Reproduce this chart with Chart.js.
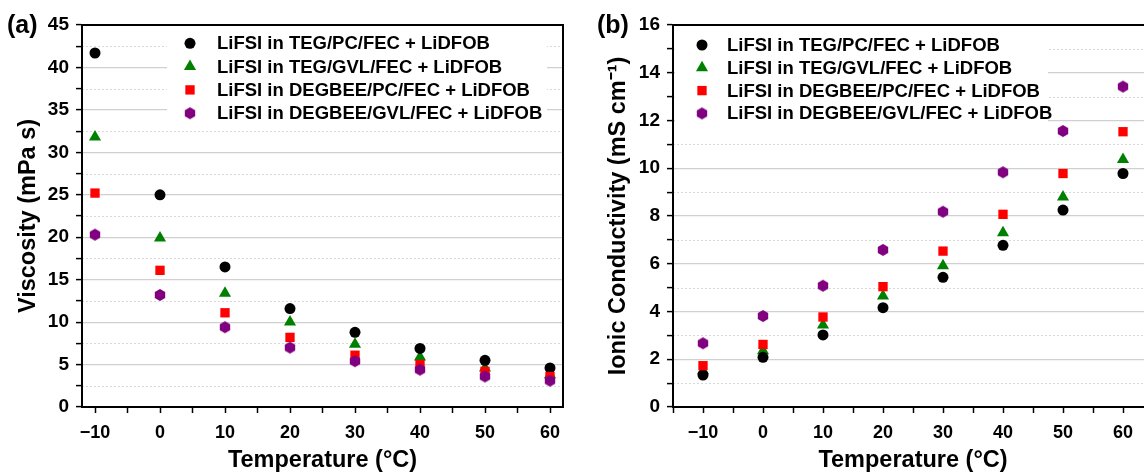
<!DOCTYPE html>
<html>
<head>
<meta charset="utf-8">
<script src="https://cdn.jsdelivr.net/npm/chart.js@4.4.0/dist/chart.umd.min.js"></script>
<style>
  html, body { margin: 0; padding: 0; background: #fff; overflow: hidden; width: 1144px; height: 472px; }
  .panel { position: absolute; top: 0; height: 472px; overflow: hidden; }
  #wrapA { left: 0; width: 590px; }
  #wrapB { left: 590px; width: 590px; }
  .tag { position: absolute; top: 12px; font: bold 25px 'Liberation Sans', Arial, sans-serif; line-height: 1; color: #000; }
</style>
</head>
<body>
<div class="panel" id="wrapA"><canvas id="chartA" width="590" height="480"></canvas></div>
<div class="panel" id="wrapB"><canvas id="chartB" width="590" height="480"></canvas></div>
<div class="tag" style="left:7px">(a)</div>
<div class="tag" style="left:597px">(b)</div>
<script>
const temperatures = [-10, 0, 10, 20, 30, 40, 50, 60];
const seriesNames = [
  "LiFSI in TEG/PC/FEC + LiDFOB",
  "LiFSI in TEG/GVL/FEC + LiDFOB",
  "LiFSI in DEGBEE/PC/FEC + LiDFOB",
  "LiFSI in DEGBEE/GVL/FEC + LiDFOB",
];

// viscosity (mPa s)
const viscTegPc = [41.7, 25.0, 16.5, 11.6, 8.8, 6.9, 5.5, 4.6];
const viscTegGvl = [31.8, 19.9, 13.4, 10.0, 7.4, 5.9, 4.6, 3.8];
const viscDegPc = [25.2, 16.1, 11.1, 8.2, 6.1, 5.0, 4.2, 3.6];
const viscDegGvl = [20.3, 13.2, 9.4, 7.0, 5.4, 4.4, 3.6, 3.1];

// ionic conductivity (mS cm-1)
const condTegPc = [1.34, 2.08, 3.02, 4.16, 5.43, 6.77, 8.25, 9.78];
const condTegGvl = [1.52, 2.36, 3.43, 4.65, 5.92, 7.3, 8.8, 10.37];
const condDegPc = [1.73, 2.62, 3.77, 5.04, 6.53, 8.07, 9.78, 11.53];
const condDegGvl = [2.67, 3.81, 5.08, 6.58, 8.18, 9.83, 11.56, 13.42];

const colors = ["#000000", "#008000", "#ff0000", "#800080"];
const fontFamily = "'Liberation Sans', Arial, sans-serif";

function makeHexagon(r) {
  const size = Math.ceil(r * 2) + 2;
  const c = document.createElement("canvas");
  c.width = size;
  c.height = size;
  const g = c.getContext("2d");
  g.fillStyle = colors[3];
  g.beginPath();
  for (let i = 0; i < 6; i++) {
    const a = Math.PI / 2 + (i * Math.PI) / 3;
    const px = size / 2 + r * Math.cos(a);
    const py = size / 2 + r * Math.sin(a);
    if (i === 0) g.moveTo(px, py);
    else g.lineTo(px, py);
  }
  g.closePath();
  g.fill();
  return c;
}
const hexagon = makeHexagon(6);

const styles = [
  { pointStyle: "circle", radius: 5.5, order: 3 },
  { pointStyle: "triangle", radius: 7, order: 4 },
  { pointStyle: "rect", radius: 6.6, order: 2 },
  { pointStyle: hexagon, radius: 6, order: 1 },
];

function toPoints(values) {
  return temperatures.map((t, i) => ({ x: t, y: values[i] }));
}

function buildDatasets(seriesList) {
  return seriesList.map((values, i) => ({
    label: seriesNames[i],
    data: toPoints(values),
    showLine: false,
    pointStyle: styles[i].pointStyle,
    pointRadius: styles[i].radius,
    pointHoverRadius: styles[i].radius,
    backgroundColor: colors[i],
    borderColor: colors[i],
    pointBorderWidth: 0,
    order: styles[i].order,
  }));
}

function drawMarker(ctx, style, color, x, y, r) {
  ctx.fillStyle = color;
  if (style instanceof HTMLCanvasElement) {
    ctx.drawImage(style, x - style.width / 2, y - style.height / 2);
    return;
  }
  ctx.beginPath();
  if (style === "circle") {
    ctx.arc(x, y, r, 0, Math.PI * 2);
  } else if (style === "triangle") {
    ctx.moveTo(x, y - r);
    ctx.lineTo(x + r * Math.sin(Math.PI / 3), y + r / 2);
    ctx.lineTo(x - r * Math.sin(Math.PI / 3), y + r / 2);
    ctx.closePath();
  } else if (style === "rect") {
    const s = Math.SQRT1_2 * r;
    ctx.rect(x - s, y - s, 2 * s, 2 * s);
  }
  ctx.fill();
}

const boxPlugin = {
  id: "box",
  beforeDatasetsDraw(chart, args, opts) {
    // dotted minor grid lines
    const { ctx, chartArea: a, scales } = chart;
    ctx.save();
    ctx.strokeStyle = "#d9d9d9";
    ctx.lineWidth = 1;
    ctx.setLineDash([2, 2]);
    scales.y.ticks.forEach((t) => {
      if (t.value % opts.yMajor !== 0) {
        const py = Math.round(scales.y.getPixelForValue(t.value)) + 0.5;
        ctx.beginPath();
        ctx.moveTo(a.left, py);
        ctx.lineTo(a.right, py);
        ctx.stroke();
      }
    });
    ctx.restore();
  },
  afterDatasetsDraw(chart, args, opts) {
    // legend on a white box inside the plot
    const { ctx, chartArea: a } = chart;
    const lg = opts.legend;
    ctx.save();
    ctx.fillStyle = "#fff";
    ctx.fillRect(a.left + lg.left, a.top + lg.top, lg.right - lg.left, lg.bottom - lg.top);
    ctx.font = "bold 18.5px " + fontFamily;
    ctx.textBaseline = "middle";
    seriesNames.forEach((name, i) => {
      const y = a.top + lg.rowY + i * lg.rowGap;
      drawMarker(ctx, styles[i].pointStyle, colors[i], a.left + lg.markerX, y, styles[i].radius);
      ctx.fillStyle = "#000";
      ctx.fillText(name, a.left + lg.textX, y + 1);
    });
    ctx.restore();
  },
  afterDraw(chart) {
    const { ctx, chartArea: a } = chart;
    ctx.save();
    ctx.strokeStyle = "#000";
    ctx.lineWidth = 2;
    ctx.strokeRect(a.left, a.top, a.right - a.left, a.bottom - a.top);
    ctx.restore();
  },
};

function tempLabel(v) {
  if (v % 10 !== 0) return "";
  return v < 0 ? "\u2212" + Math.abs(v) : String(v);
}

function makeOptions(cfg) {
  const xTickFont = { family: fontFamily, size: 18, weight: "bold" };
  const yTickFont = { family: fontFamily, size: 19, weight: "bold" };
  const titleFont = { family: fontFamily, size: 23.5, weight: "bold" };
  return {
    responsive: false,
    animation: false,
    events: [],
    layout: { padding: cfg.padding },
    plugins: {
      legend: { display: false },
      tooltip: { enabled: false },
      box: { yMajor: cfg.yMajor, legend: cfg.legend },
    },
    scales: {
      x: {
        type: "linear",
        min: cfg.xMin,
        max: cfg.xMax,
        afterBuildTicks: (s) => {
          const ticks = [];
          for (let v = Math.ceil(s.min / 5) * 5; v <= s.max; v += 5) ticks.push({ value: v });
          s.ticks = ticks;
        },
        afterFit: (s) => {
          s.height = 73;
        },
        ticks: {
          autoSkip: false,
          maxRotation: 0,
          callback: tempLabel,
          color: "#000",
          font: xTickFont,
          padding: 9,
        },
        grid: { drawOnChartArea: false, tickColor: "#000", tickLength: 6, tickWidth: 1.5 },
        border: { color: "#000", width: 2 },
        title: {
          display: true,
          text: "Temperature (°C)",
          color: "#000",
          font: titleFont,
          padding: { top: 0, bottom: 5 },
        },
      },
      y: {
        min: 0,
        max: cfg.yMax,
        afterFit: (s) => {
          s.width = cfg.yWidth;
        },
        ticks: {
          stepSize: cfg.yStep,
          autoSkip: false,
          callback: (v) => (v % cfg.yMajor === 0 ? String(v) : ""),
          color: "#000",
          font: yTickFont,
          padding: 7,
        },
        grid: {
          color: (c) => (c.tick && c.tick.value % cfg.yMajor === 0 ? "#d0d0d0" : "rgba(0,0,0,0)"),
          lineWidth: 1.2,
          tickColor: "#000",
          tickLength: 6,
          tickWidth: 1.5,
        },
        border: { color: "#000", width: 2 },
        title: {
          display: true,
          text: cfg.yTitle,
          color: "#000",
          font: titleFont,
          padding: { top: 14, bottom: 0 },
        },
      },
    },
  };
}

new Chart(document.getElementById("chartA"), {
  type: "scatter",
  data: { datasets: buildDatasets([viscTegPc, viscTegGvl, viscDegPc, viscDegGvl]) },
  options: makeOptions({
    padding: { left: 0, right: 27, top: 25, bottom: 0 },
    xMin: -12,
    xMax: 62,
    yMax: 45,
    yStep: 2.5,
    yMajor: 5,
    yWidth: 82,
    yTitle: "Viscosity (mPa s)",
    legend: { left: 85, top: 2, right: 465, bottom: 97, markerX: 108, textX: 135, rowY: 18.3, rowGap: 23.3 },
  }),
  plugins: [boxPlugin],
});

new Chart(document.getElementById("chartB"), {
  type: "scatter",
  data: { datasets: buildDatasets([condTegPc, condTegGvl, condDegPc, condDegGvl]) },
  options: makeOptions({
    padding: { left: 0, right: 27, top: 25, bottom: 0 },
    xMin: -15,
    xMax: 65,
    yMax: 16,
    yStep: 1,
    yMajor: 2,
    yWidth: 83,
    yTitle: "Ionic Conductivity (mS cm\u207B\u00B9)",
    legend: { left: 2, top: 2, right: 375, bottom: 100, markerX: 29, textX: 54, rowY: 20, rowGap: 22.8 },
  }),
  plugins: [boxPlugin],
});
</script>
</body>
</html>
